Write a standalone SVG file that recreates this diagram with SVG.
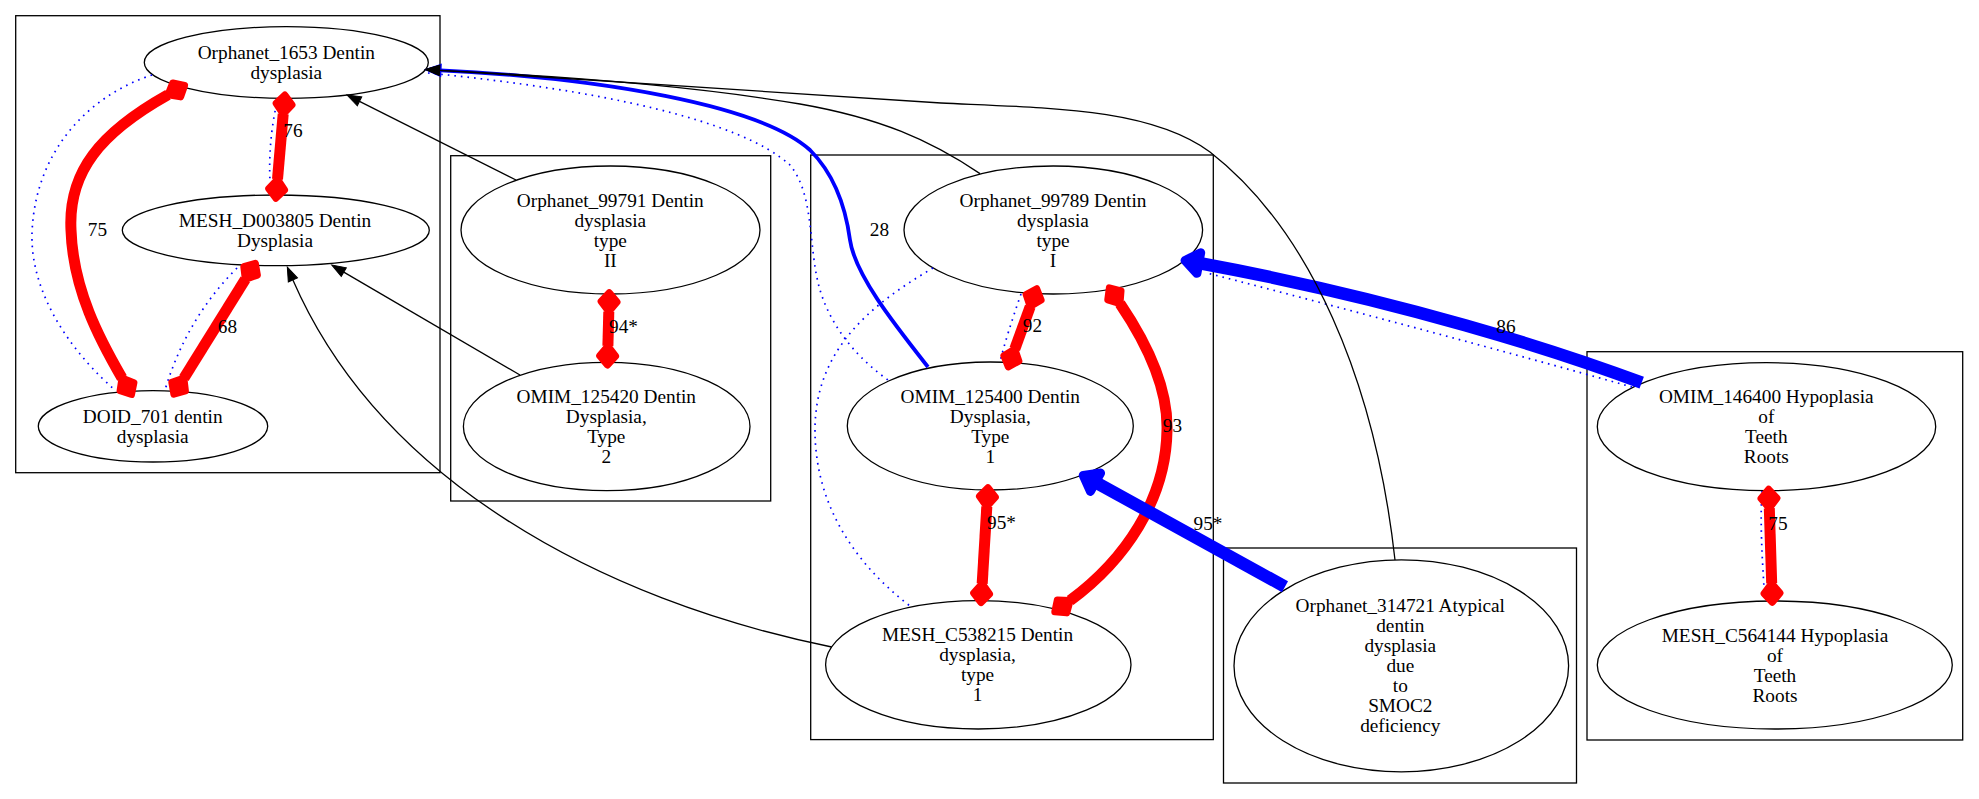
<svg xmlns="http://www.w3.org/2000/svg" width="1979" height="799" viewBox="0 0 1979 799">
<style>
.cl{fill:none;stroke:#000;stroke-width:1.3}
.nd{fill:none;stroke:#000;stroke-width:1.3}
text{font-family:"Liberation Serif","Times New Roman",serif;font-size:19.3px;fill:#000;text-anchor:middle}
.blk{fill:none;stroke:#000;stroke-width:1.3}
.dot{fill:none;stroke:#0000ff;stroke-width:1.7;stroke-dasharray:1.6,5}
.red{fill:none;stroke:#ff0000;stroke-width:11}
.bth{fill:none;stroke:#0000ff;stroke-width:12.5}
.bt{fill:none;stroke:#0000ff;stroke-width:3.8}
</style>
<defs>
<marker id="dia" markerUnits="userSpaceOnUse" markerWidth="40" markerHeight="40" refX="0" refY="0" orient="auto-start-reverse" overflow="visible">
<polygon points="0,0 10,-8 19,0 10,8" fill="#ff0000" stroke="#ff0000" stroke-width="7" stroke-linejoin="round"/>
</marker>
<marker id="ak" markerUnits="userSpaceOnUse" markerWidth="20" markerHeight="20" refX="0" refY="0" orient="auto" overflow="visible">
<path d="M0,-5 L14,0 L0,5 Z" fill="#000" stroke="#000" stroke-width="1"/>
</marker>
<marker id="ab" markerUnits="userSpaceOnUse" markerWidth="20" markerHeight="20" refX="0" refY="0" orient="auto" overflow="visible">
<path d="M0,-5.5 L14,0 L0,5.5 Z" fill="#0000ff" stroke="#0000ff" stroke-width="2"/>
</marker>
<marker id="abt" markerUnits="userSpaceOnUse" markerWidth="40" markerHeight="40" refX="0" refY="0" orient="auto" overflow="visible">
<path d="M0,-10.5 L14,0 L0,10.5 Z" fill="#0000ff" stroke="#0000ff" stroke-width="9" stroke-linejoin="round"/>
</marker>
</defs>
<rect width="1979" height="799" fill="#fff"/>
<g id="clusters">
<rect class="cl" x="15.7" y="15.7" width="424.3" height="457"/>
<rect class="cl" x="450.7" y="155.7" width="320" height="345.3"/>
<rect class="cl" x="810.7" y="155" width="402.6" height="584.6"/>
<rect class="cl" x="1223.5" y="548" width="353" height="235"/>
<rect class="cl" x="1587" y="351.7" width="375.7" height="388.3"/>
</g>
<g id="Orphanet_1653">
<ellipse class="nd" cx="286.3" cy="62.5" rx="142" ry="35.8"/>
<text x="286.3" y="59">Orphanet_1653 Dentin</text>
<text x="286.3" y="79">dysplasia</text>
</g>
<g id="MESH_D003805">
<ellipse class="nd" cx="275.8" cy="230.3" rx="153.5" ry="35.3"/>
<text x="275" y="226.8">MESH_D003805 Dentin</text>
<text x="275" y="246.8">Dysplasia</text>
</g>
<g id="DOID_701">
<ellipse class="nd" cx="153" cy="426.3" rx="114.7" ry="35.7"/>
<text x="152.7" y="422.8">DOID_701 dentin</text>
<text x="152.7" y="442.8">dysplasia</text>
</g>
<g id="Orphanet_99791">
<ellipse class="nd" cx="610.5" cy="230" rx="149.5" ry="64"/>
<text x="610.3" y="206.5">Orphanet_99791 Dentin</text>
<text x="610.3" y="226.5">dysplasia</text>
<text x="610.3" y="246.5">type</text>
<text x="610.3" y="266.5">II</text>
</g>
<g id="OMIM_125420">
<ellipse class="nd" cx="606.7" cy="426.5" rx="143.3" ry="64.2"/>
<text x="606.3" y="403">OMIM_125420 Dentin</text>
<text x="606.3" y="423">Dysplasia,</text>
<text x="606.3" y="443">Type</text>
<text x="606.3" y="463">2</text>
</g>
<g id="Orphanet_99789">
<ellipse class="nd" cx="1053.3" cy="230" rx="149.3" ry="64"/>
<text x="1053" y="206.5">Orphanet_99789 Dentin</text>
<text x="1053" y="226.5">dysplasia</text>
<text x="1053" y="246.5">type</text>
<text x="1053" y="266.5">I</text>
</g>
<g id="OMIM_125400">
<ellipse class="nd" cx="990.3" cy="426" rx="143" ry="64"/>
<text x="990.3" y="402.5">OMIM_125400 Dentin</text>
<text x="990.3" y="422.5">Dysplasia,</text>
<text x="990.3" y="442.5">Type</text>
<text x="990.3" y="462.5">1</text>
</g>
<g id="MESH_C538215">
<ellipse class="nd" cx="978.3" cy="664.8" rx="152.7" ry="64.2"/>
<text x="977.5" y="641.3">MESH_C538215 Dentin</text>
<text x="977.5" y="661.3">dysplasia,</text>
<text x="977.5" y="681.3">type</text>
<text x="977.5" y="701.3">1</text>
</g>
<g id="Orphanet_314721">
<ellipse class="nd" cx="1401.3" cy="665.8" rx="167.3" ry="106"/>
<text x="1400.3" y="612.3">Orphanet_314721 Atypical</text>
<text x="1400.3" y="632.3">dentin</text>
<text x="1400.3" y="652.3">dysplasia</text>
<text x="1400.3" y="672.3">due</text>
<text x="1400.3" y="692.3">to</text>
<text x="1400.3" y="712.3">SMOC2</text>
<text x="1400.3" y="732.3">deficiency</text>
</g>
<g id="OMIM_146400">
<ellipse class="nd" cx="1766.5" cy="426.7" rx="169.2" ry="64"/>
<text x="1766.3" y="403.2">OMIM_146400 Hypoplasia</text>
<text x="1766.3" y="423.2">of</text>
<text x="1766.3" y="443.2">Teeth</text>
<text x="1766.3" y="463.2">Roots</text>
</g>
<g id="MESH_C564144">
<ellipse class="nd" cx="1774.8" cy="665" rx="177.5" ry="64"/>
<text x="1775" y="641.5">MESH_C564144 Hypoplasia</text>
<text x="1775" y="661.5">of</text>
<text x="1775" y="681.5">Teeth</text>
<text x="1775" y="701.5">Roots</text>
</g>
<g id="connectors">
<path class="dot" d="M152,75 C 90,95 35,150 32,233 C 30,300 80,360 115,390"/>
<path class="dot" d="M278,98 C 270,130 268,165 271,195"/>
<path class="dot" d="M237,268 C 205,300 180,340 165,390"/>
<path class="dot" d="M428,73 C 600,90 740,120 790,165 C 815,195 808,250 820,290 C 832,330 860,360 888,380"/>
<path class="dot" d="M933,268 C 870,305 815,350 815,430 C 815,500 850,560 910,606"/>
<path class="dot" d="M1021,294 C 1012,320 1004,345 1000,362"/>
<path class="dot" d="M1632,387 C 1500,350 1350,310 1207,273"/>
<path class="dot" d="M1762,491 C 1760,520 1762,560 1765,601"/>
<path class="red" marker-start="url(#dia)" marker-end="url(#dia)" d="M168,94.8 C 100,133 68,172 71,230 C 73,290 100,340 122,378"/>
<path class="red" marker-start="url(#dia)" marker-end="url(#dia)" d="M283.2,114 L277.5,179.3"/>
<path class="red" marker-start="url(#dia)" marker-end="url(#dia)" d="M245.3,279.4 L183.9,378.1"/>
<path class="red" marker-start="url(#dia)" marker-end="url(#dia)" d="M608.8,311.7 L607.9,346"/>
<path class="red" marker-start="url(#dia)" marker-end="url(#dia)" d="M1030.2,306.6 L1014.8,349"/>
<path class="red" marker-start="url(#dia)" marker-end="url(#dia)" d="M1120,303.6 C 1148,345 1168,390 1167,430 C 1166,500 1125,560 1070.1,600.5"/>
<path class="red" marker-start="url(#dia)" marker-end="url(#dia)" d="M986.8,506.7 L982.2,583.6"/>
<path class="red" marker-start="url(#dia)" marker-end="url(#dia)" d="M1769.3,508.3 L1771.7,583.3"/>
<path class="bt" marker-end="url(#ab)" d="M928,367 C 895,325 855,275 850,240 C 846,210 835,175 810,150 C 760,105 600,78 440.5,70.3"/>
<path class="bth" marker-end="url(#abt)" d="M1641.7,382.7 C 1560,352 1400,300 1198.8,263"/>
<path class="bth" marker-end="url(#abt)" d="M1285,586.7 L1095.5,482.2"/>
<path class="blk" marker-end="url(#ak)" d="M516,180 L359.5,101.3"/>
<path class="blk" marker-end="url(#ak)" d="M520,375 L343.8,272.1"/>
<path class="blk" marker-end="url(#ak)" d="M831.7,647 C 600,600 380,480 292.9,279.9"/>
<path class="blk" marker-end="url(#ak)" d="M980,173.6 C 930,140 880,118 800,104 C 700,87 560,76 439.5,70.3"/>
<path class="blk" marker-end="url(#ak)" d="M1395,560 C 1375,380 1310,230 1210,152 C 1150,108 1050,108 941,103 L 439.5,70.3"/>
<text x="97.5" y="235.5">75</text>
<text x="293" y="137">76</text>
<text x="227.5" y="333">68</text>
<text x="623.5" y="333">94*</text>
<text x="879.5" y="235.5">28</text>
<text x="1032.5" y="332">92</text>
<text x="1172.5" y="431.5">93</text>
<text x="1001.5" y="529">95*</text>
<text x="1208" y="530">95*</text>
<text x="1506" y="333">86</text>
<text x="1778" y="529.5">75</text>
</g>
</svg>
